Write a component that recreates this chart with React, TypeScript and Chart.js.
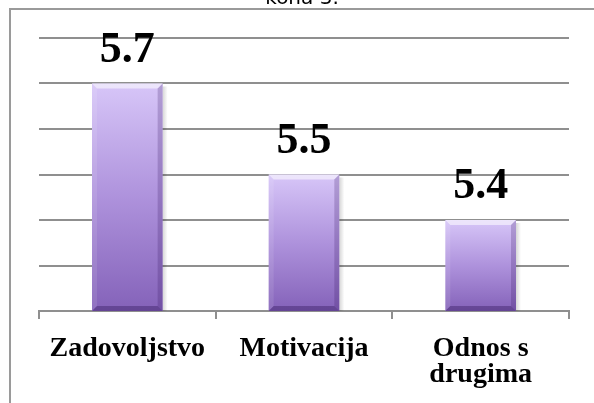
import React, { useEffect, useRef } from "react";
import { Chart, registerables } from "chart.js";

Chart.register(...registerables);

const categories: (string | string[])[] = ["Zadovoljstvo", "Motivacija", ["Odnos s", "drugima"]];
const values: number[] = [5.7, 5.5, 5.4];
const valueLabels: string[] = ["5.7", "5.5", "5.4"];
const yMin = 5.2;
const yMax = 5.8;
const yStep = 0.1;
const titleText = "kona 3.";

const framePlugin = {
  id: "frame",
  beforeDraw(chart: any) {
    const ctx = chart.ctx;
    ctx.save();
    ctx.fillStyle = "#ffffff";
    ctx.fillRect(0, 0, chart.width, chart.height);
    ctx.strokeStyle = "#9a9a9a";
    ctx.lineWidth = 2;
    ctx.beginPath();
    ctx.moveTo(10, chart.height);
    ctx.lineTo(10, 9);
    ctx.lineTo(chart.width, 9);
    ctx.stroke();
    ctx.fillStyle = "#000000";
    ctx.font = "20px 'DejaVu Sans'";
    ctx.textAlign = "center";
    ctx.textBaseline = "alphabetic";
    ctx.fillText(titleText, 302, 4);
    ctx.restore();
  },
};

const barBottom = (chart: any, bar: any) => Math.min(bar.base, chart.chartArea.bottom);

const bevelPlugin = {
  id: "bevel",
  beforeDatasetsDraw(chart: any) {
    const ctx = chart.ctx;
    const meta = chart.getDatasetMeta(0);
    ctx.save();
    meta.data.forEach((bar: any) => {
      const w = bar.width;
      const right = bar.x + w / 2;
      const b = barBottom(chart, bar);
      const g = ctx.createLinearGradient(right, 0, right + 5, 0);
      g.addColorStop(0, "rgba(0,0,0,0.16)");
      g.addColorStop(1, "rgba(0,0,0,0)");
      ctx.fillStyle = g;
      ctx.fillRect(right, bar.y + 3, 5, b - bar.y - 3);
    });
    ctx.restore();
  },
  afterDatasetsDraw(chart: any) {
    const ctx = chart.ctx;
    const meta = chart.getDatasetMeta(0);
    ctx.save();
    meta.data.forEach((bar: any, i: number) => {
      const w = bar.width;
      const l = bar.x - w / 2;
      const r = bar.x + w / 2;
      const t = bar.y;
      const b = barBottom(chart, bar);
      const e = 5;
      const poly = (pts: number[][], color: string) => {
        ctx.beginPath();
        ctx.moveTo(pts[0][0], pts[0][1]);
        for (let k = 1; k < pts.length; k++) ctx.lineTo(pts[k][0], pts[k][1]);
        ctx.closePath();
        ctx.fillStyle = color;
        ctx.fill();
      };
      poly([[l, t], [r, t], [r - e, t + e], [l + e, t + e]], "rgba(255,255,255,0.55)");
      poly([[l, t], [l + e, t + e], [l + e, b - e], [l, b]], "rgba(255,255,255,0.10)");
      poly([[r, t], [r - e, t + e], [r - e, b - e], [r, b]], "rgba(50,20,90,0.22)");
      poly([[l, b], [l + e, b - e], [r - e, b - e], [r, b]], "rgba(40,15,80,0.35)");
      ctx.fillStyle = "#000000";
      ctx.font = "bold 44px 'Liberation Serif'";
      ctx.textAlign = "center";
      ctx.textBaseline = "alphabetic";
      ctx.fillText(valueLabels[i], bar.x, t - 22);
    });
    ctx.restore();
  },
};

export default function App() {
  const ref = useRef<HTMLCanvasElement | null>(null);
  useEffect(() => {
    if (!ref.current) return;
    const chart = new Chart(ref.current, {
      type: "bar",
      data: {
        labels: categories as any,
        datasets: [
          {
            data: values,
            backgroundColor: (c: any) => {
              const ch = c.chart;
              const ys = ch.scales && ch.scales.y;
              if (!ch.chartArea || !ys || c.raw === undefined) return "#a98bd6";
              const top = ys.getPixelForValue(c.raw);
              const bottom = ys.getPixelForValue(yMin);
              const g = ch.ctx.createLinearGradient(0, top, 0, bottom);
              g.addColorStop(0, "#d7c6f8");
              g.addColorStop(0.5, "#ae92dc");
              g.addColorStop(1, "#8462b9");
              return g;
            },
            borderWidth: 0,
            barPercentage: 0.4,
            categoryPercentage: 1,
          },
        ],
      },
      options: {
        animation: false,
        responsive: false,
        layout: { padding: { left: 39, right: 25, top: 38, bottom: 0 } },
        plugins: { legend: { display: false }, tooltip: { enabled: false }, title: { display: false } },
        scales: {
          x: {
            offset: true,
            grid: { display: true, drawOnChartArea: false, color: "#8f8f8f", lineWidth: 2, tickLength: 8, offset: true },
            border: { display: true, color: "#8f8f8f", width: 2 },
            ticks: {
              color: "#000000",
              font: { family: "'Liberation Serif'", weight: "bold", size: 28, lineHeight: 0.92 },
              padding: 17,
              maxRotation: 0,
              autoSkip: false,
            },
            afterFit: (s: any) => {
              s.height = 92;
            },
          },
          y: {
            min: yMin,
            max: yMax,
            ticks: { display: false, stepSize: yStep },
            border: { display: false },
            grid: { color: "#8f8f8f", lineWidth: 2, drawTicks: false },
            afterFit: (s: any) => {
              s.width = 0;
            },
          },
        },
      },
      plugins: [framePlugin, bevelPlugin],
    });
    return () => chart.destroy();
  }, []);
  return (
    <canvas
      ref={ref}
      width={594}
      height={403}
      style={{ position: "fixed", left: 0, top: 0, display: "block", width: 594, height: 403 }}
    />
  );
}
